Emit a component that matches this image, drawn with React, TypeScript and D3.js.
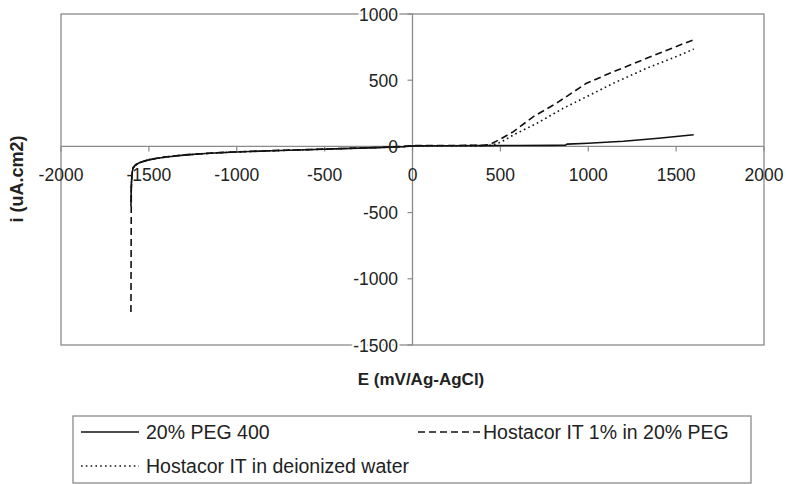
import React from "react";
import * as d3 from "d3";

const xTicks = [-2000, -1500, -1000, -500, 0, 500, 1000, 1500, 2000];
const yTicks = [-1500, -1000, -500, 0, 500, 1000];

const negE = [-1602, -1600, -1597, -1594, -1590, -1580, -1560, -1530, -1500, -1450, -1400, -1300, -1200, -1100, -1000, -800, -600, -400, -200, -50, 0, 200, 400];
const pegNegI = [-450, -300, -230, -190, -165, -145, -127, -113, -102, -90, -80, -66, -56, -48, -42, -33, -25, -17, -9, -2, 4, 5, 6];
const hostPegNegI = [-1250, -320, -235, -190, -165, -145, -127, -112, -100, -88, -78, -64, -55, -47, -41, -32, -24, -16, -8, 0, 6, 7, 8];
const hostWaterNegI = [-420, -290, -225, -185, -160, -142, -125, -111, -100, -89, -79, -65, -56, -48, -42, -33, -25, -17, -9, -2, 4, 5, 6];

const pegPosE = [600, 800, 870, 880, 1000, 1100, 1200, 1300, 1400, 1500, 1600];
const pegPosI = [7, 8, 9, 17, 24, 31, 39, 50, 62, 75, 88];

const hostPegPosE = [440, 500, 574, 688, 820, 990, 1143, 1332, 1522, 1607];
const hostPegPosI = [14, 55, 111, 225, 327, 477, 564, 665, 766, 809];

const hostWaterPosE = [450, 500, 574, 707, 858, 1029, 1143, 1332, 1522, 1600];
const hostWaterPosI = [8, 30, 86, 174, 288, 401, 477, 590, 690, 735];

const seriesNames = ["20% PEG 400", "Hostacor IT 1% in 20% PEG", "Hostacor IT in deionized water"];

const zip = (e: number[], i: number[]) => e.map((v, k) => [v, i[k]] as [number, number]);

const series = [
  { name: seriesNames[0], pts: [...zip(negE, pegNegI), ...zip(pegPosE, pegPosI)], dash: "none" },
  { name: seriesNames[1], pts: [...zip(negE, hostPegNegI), ...zip(hostPegPosE, hostPegPosI)], dash: "7,4" },
  { name: seriesNames[2], pts: [...zip(negE, hostWaterNegI), ...zip(hostWaterPosE, hostWaterPosI)], dash: "1.6,3.2" },
];

export default function App() {
  const W = 786, H = 484;
  const x = d3.scaleLinear().domain([-2000, 2000]).range([61, 764]);
  const y = d3.scaleLinear().domain([-1500, 1000]).range([345, 14]);
  const line = d3.line<[number, number]>().x(d => x(d[0])).y(d => y(d[1]));
  const x0 = x(0), y0 = y(0);
  const axisColor = "#8a8a8a";
  const font = "'Liberation Sans', Arial, sans-serif";
  const textColor = "#222";

  return (
    <svg width={W} height={H} style={{ position: "absolute", left: 0, top: 0, background: "#fff" }} fontFamily={font}>
      <rect x={0} y={0} width={W} height={H} fill="#fff" />
      {/* plot frame */}
      <rect x={x(-2000)} y={y(1000)} width={x(2000) - x(-2000)} height={y(-1500) - y(1000)} fill="none" stroke={axisColor} strokeWidth={1.3} />
      {/* axes */}
      <line x1={x(-2000)} x2={x(2000)} y1={y0} y2={y0} stroke={axisColor} strokeWidth={1.3} />
      <line x1={x0} x2={x0} y1={y(1000)} y2={y(-1500)} stroke={axisColor} strokeWidth={1.3} />
      {xTicks.map(t => (
        <line key={"xt" + t} x1={x(t)} x2={x(t)} y1={y0} y2={y0 + 5} stroke={axisColor} strokeWidth={1.2} />
      ))}
      {yTicks.map(t => (
        <line key={"yt" + t} x1={x0 - 5} x2={x0} y1={y(t)} y2={y(t)} stroke={axisColor} strokeWidth={1.2} />
      ))}
      {/* series */}
      {series.map(s => (
        <path key={s.name} d={line(s.pts) || ""} fill="none" stroke="#111" strokeWidth={1.6} strokeDasharray={s.dash} />
      ))}
      {/* tick labels */}
      {xTicks.map(t => (
        <text key={"xl" + t} x={x(t)} y={y0 + 35} textAnchor="middle" fontSize={17.5} fill={textColor}>{t}</text>
      ))}
      {yTicks.map(t => (
        <text key={"yl" + t} x={398} y={y(t) + 6.5} textAnchor="end" fontSize={17.5} fill={textColor}
          stroke={t === 0 ? "none" : "#fff"} strokeWidth={4} paintOrder="stroke">{t}</text>
      ))}
      {/* axis titles */}
      <text x={421} y={385} textAnchor="middle" fontSize={17} fontWeight="bold" fill={textColor}>E (mV/Ag-AgCl)</text>
      <text transform={`translate(23,179) rotate(-90)`} textAnchor="middle" fontSize={18} fontWeight="bold" fill={textColor}>i (uA.cm2)</text>
      {/* legend */}
      <rect x={73} y={416} width={678} height={67} fill="#fff" stroke={axisColor} strokeWidth={1.3} />
      <line x1={81} x2={139} y1={432} y2={432} stroke="#111" strokeWidth={1.6} />
      <text x={146} y={439} fontSize={19.5} fill={textColor}>{seriesNames[0]}</text>
      <line x1={418} x2={481} y1={432} y2={432} stroke="#111" strokeWidth={1.6} strokeDasharray="7,4" />
      <text x={483} y={439} fontSize={19.5} fill={textColor}>{seriesNames[1]}</text>
      <line x1={81} x2={139} y1={466} y2={466} stroke="#111" strokeWidth={1.6} strokeDasharray="1.6,3.2" />
      <text x={146} y={473} fontSize={19.5} fill={textColor}>{seriesNames[2]}</text>
    </svg>
  );
}
